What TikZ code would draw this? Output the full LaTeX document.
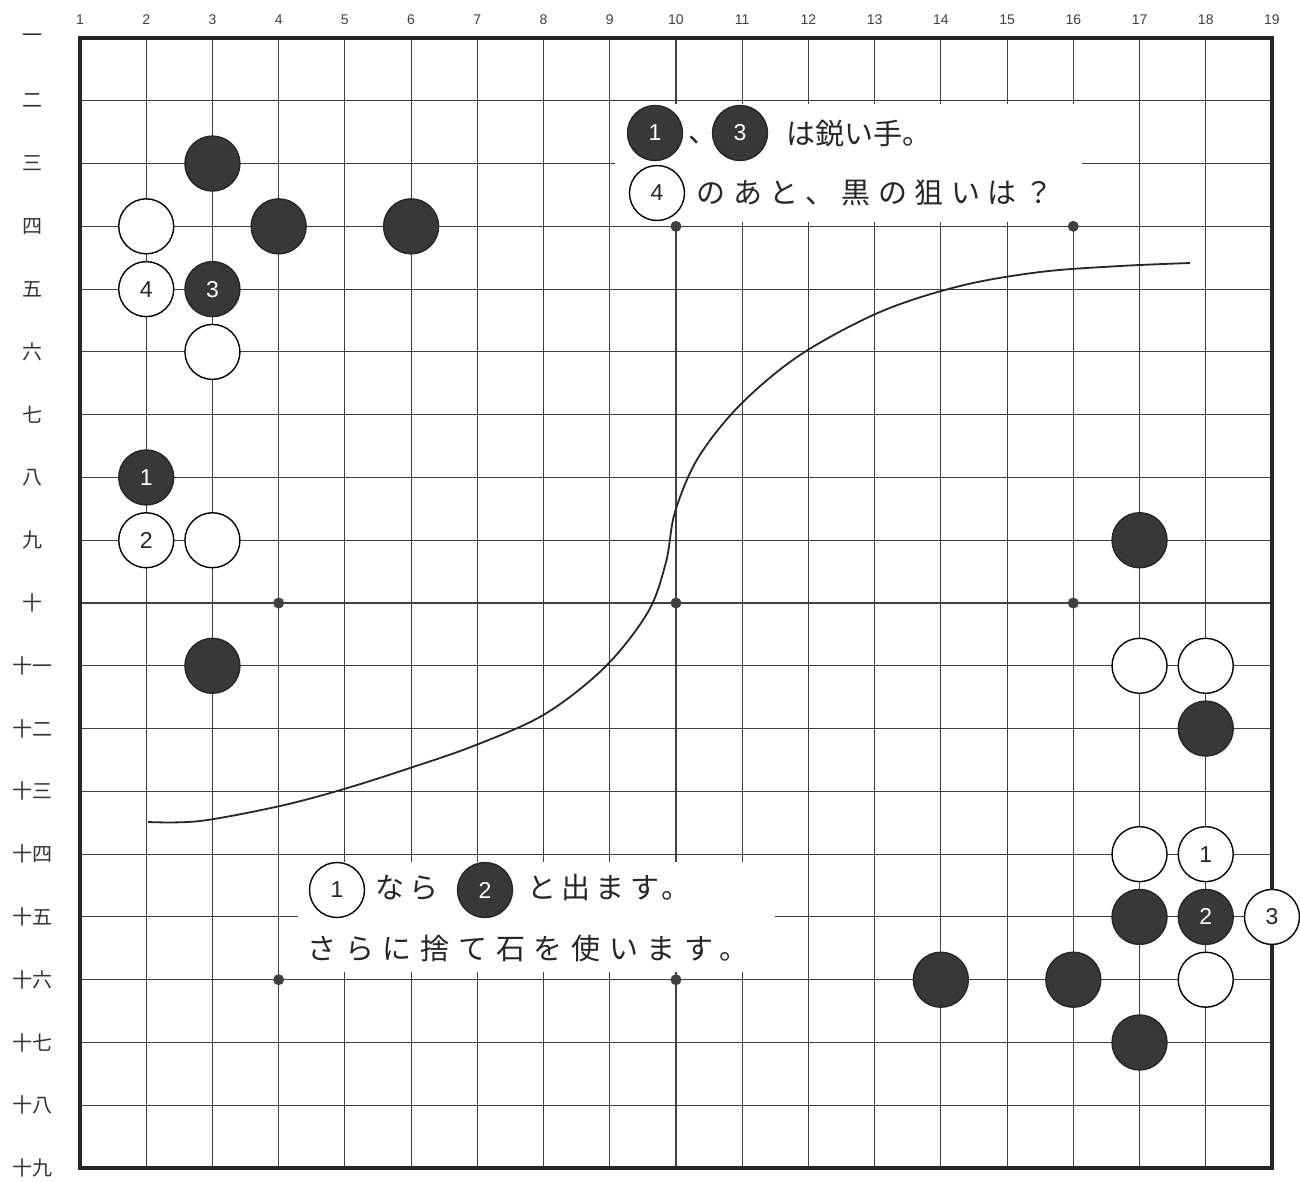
\documentclass[tikz,border=0pt]{standalone}
\usepackage{fontspec}
\setmainfont{Liberation Sans}
\newfontfamily\jp{Noto Sans CJK JP}
\newfontfamily\jpwide[LetterSpace=18]{Noto Sans CJK JP}
\newfontfamily\jpwider[LetterSpace=26]{Noto Sans CJK JP}
\newfontfamily\jpwidest[LetterSpace=30]{Noto Sans CJK JP}
\begin{document}
\begin{tikzpicture}[x=1pt,y=-1pt,
  gridline/.style={line width=1.1pt, draw=black!75},
  stonebase/.style={circle, minimum size=55pt, inner sep=0pt, line width=1.4pt, font=\fontsize{23}{23}\selectfont},
  bstone/.style={stonebase, draw=black!85, fill=black!78, text=white},
  wstone/.style={stonebase, draw=black, fill=white, text=black!85},
  star/.style={circle, fill=black!75, minimum size=11pt, inner sep=0pt},
  collab/.style={font=\fontsize{14}{14}\selectfont, text=black!75},
  rowlab/.style={font=\jp\fontsize{20}{20}\selectfont, text=black!80},
  jptext/.style={anchor=west, font=\jp\fontsize{29}{29}\selectfont, text=black!85},
  jpwidetext/.style={anchor=west, font=\jpwide\fontsize{29}{29}\selectfont, text=black!85},
  jpwidertext/.style={anchor=west, font=\jpwider\fontsize{29}{29}\selectfont, text=black!85},
  jpwidesttext/.style={anchor=west, font=\jpwidest\fontsize{29}{29}\selectfont, text=black!85}
]
\useasboundingbox (0,0) rectangle (1300,1181);
\fill[white] (0,0) rectangle (1300,1181);

\begin{scope}[x={(66.22pt,0pt)}, y={(0pt,-62.78pt)}, shift={(13.78pt,24.78pt)}]
  % grid
  \foreach \i in {2,...,18} {
    \draw[gridline] (\i,1) -- (\i,19);
    \draw[gridline] (1,\i) -- (19,\i);
  }
\end{scope}

% white backgrounds of the texts
\fill[white] (615,104) rectangle (1082,222);
\fill[white] (298,862) rectangle (775,972);

\begin{scope}[x={(66.22pt,0pt)}, y={(0pt,-62.78pt)}, shift={(13.78pt,24.78pt)}]
  \draw[line width=3.5pt, draw=black!85] (1,1) rectangle (19,19);
  % star points
  \foreach \i/\j [count=\k] in {4/4,10/4,16/4,4/10,10/10,16/10,4/16,10/16,16/16}
    \node[star] (s\k) at (\i,\j) {};
  % column labels
  \foreach \i in {1,...,19}
    \node[collab] (c\i) at (\i,0.71) {\i};
  % row labels
  \foreach \j/\t in {1/一,2/二,3/三,4/四,5/五,6/六,7/七,8/八,9/九,10/十,11/十一,12/十二,13/十三,14/十四,15/十五,16/十六,17/十七,18/十八,19/十九}
    \node[rowlab] (r\j) at (0.29,\j) {\t};

  % upper-left stones
  \node[bstone] (b3c) at (3,3) {};
  \node[wstone] (w4b) at (2,4) {};
  \node[bstone] (b4d) at (4,4) {};
  \node[bstone] (b4f) at (6,4) {};
  \node[wstone] (w5b) at (2,5) {4};
  \node[bstone] (b5c) at (3,5) {3};
  \node[wstone] (w6c) at (3,6) {};
  \node[bstone] (b8b) at (2,8) {1};
  \node[wstone] (w9b) at (2,9) {2};
  \node[wstone] (w9c) at (3,9) {};
  \node[bstone] (b11c) at (3,11) {};

  % right side stones
  \node[bstone] (b9q) at (17,9) {};
  \node[wstone] (w11q) at (17,11) {};
  \node[wstone] (w11r) at (18,11) {};
  \node[bstone] (b12r) at (18,12) {};
  \node[wstone] (w14q) at (17,14) {};
  \node[wstone] (w14r) at (18,14) {1};
  \node[bstone] (b15q) at (17,15) {};
  \node[bstone] (b15r) at (18,15) {2};
  \node[wstone] (w15s) at (19,15) {3};
  \node[bstone] (b16n) at (14,16) {};
  \node[bstone] (b16p) at (16,16) {};
  \node[wstone] (w16r) at (18,16) {};
  \node[bstone] (b17q) at (17,17) {};
\end{scope}

% curve
\draw[line width=1.8pt, black!85] plot[smooth, tension=0.55] coordinates {
  (148,822) (200,821) (280,806) (344,789) (410,768) (476,745) (545,714) (605,667)
  (648,612) (666,562) (675,512) (698,458) (740,405) (800,355) (880,312)
  (960,286) (1040,272) (1120,266) (1190,263)};

% upper text
\node[bstone] (t1) at (655,133) {1};
\node[jptext, anchor=center] (tc) at (703,140) {、};
\node[bstone] (t3) at (740,133) {3};
\node[jptext] (tl1) at (783,133) {は鋭い手。};
\node[wstone] (t4) at (657,193) {4};
\node[jpwidertext] (tl2) at (693,193) {のあと、黒の狙いは？};

% lower text
\node[wstone] (u1) at (337,890) {1};
\node[jpwidetext] (ul1a) at (372,888) {なら};
\node[bstone] (u2) at (485,890) {2};
\node[jpwidetext] (ul1b) at (524,888) {と出ます。};
\node[jpwidesttext] (ul2) at (304,948) {さらに捨て石を使います。};
\end{tikzpicture}
\end{document}
